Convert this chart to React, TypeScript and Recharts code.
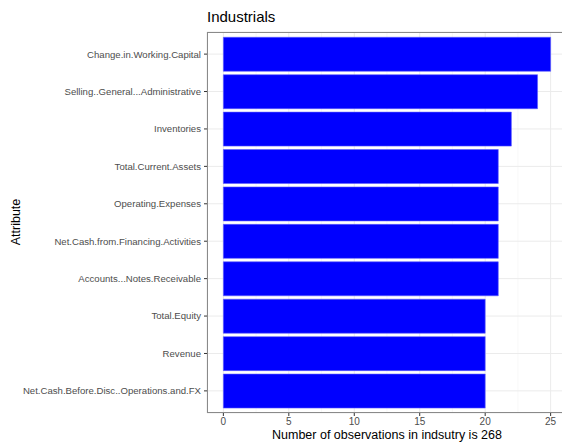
import React from 'react';
import {
  BarChart,
  Bar,
  XAxis,
  YAxis,
  CartesianGrid,
} from 'recharts';

const attributes = [
  'Change.in.Working.Capital',
  'Selling..General...Administrative',
  'Inventories',
  'Total.Current.Assets',
  'Operating.Expenses',
  'Net.Cash.from.Financing.Activities',
  'Accounts...Notes.Receivable',
  'Total.Equity',
  'Revenue',
  'Net.Cash.Before.Disc..Operations.and.FX',
];
const counts = [25, 24, 22, 21, 21, 21, 21, 20, 20, 20];
const xTicks = [0, 5, 10, 15, 20, 25];
const minorTicks = [2.5, 7.5, 12.5, 17.5, 22.5];
const xDomain = [-1.25, 26.25];

const data = attributes.map((name, i) => ({ name, count: counts[i] }));

const font = '"Liberation Sans", Arial, sans-serif';

// minor vertical gridlines, mapped through the x scale (or the plot offset as fallback)
const minorGrid = ({ xAxis, offset }: any) =>
  minorTicks.map((t) => {
    if (xAxis && typeof xAxis.scale === 'function') return xAxis.scale(t);
    if (xAxis && xAxis.scale && typeof xAxis.scale.map === 'function') return xAxis.scale.map(t);
    return offset.left + ((t - xDomain[0]) / (xDomain[1] - xDomain[0])) * offset.width;
  });

export default function App() {
  return (
    <div
      style={{
        position: 'absolute',
        left: 0,
        top: 0,
        width: 562,
        height: 446,
        overflow: 'hidden',
        background: '#fff',
        fontFamily: font,
      }}
    >
      <div style={{ position: 'absolute', left: 207, top: 8, fontSize: 15, color: '#000' }}>
        Industrials
      </div>
      <BarChart
        width={580}
        height={446}
        data={data}
        layout="vertical"
        margin={{ top: 32, right: 13, left: 0, bottom: 0 }}
        barCategoryGap="5%"
      >
        <CartesianGrid
          stroke="#F4F4F4"
          strokeWidth={0.6}
          horizontal={false}
          verticalCoordinatesGenerator={minorGrid}
        />
        <CartesianGrid stroke="#EBEBEB" strokeWidth={1} />
        <XAxis
          type="number"
          domain={xDomain}
          ticks={xTicks}
          allowDataOverflow
          height={33}
          tickSize={3}
          tickMargin={2}
          axisLine={false}
          tickLine={{ stroke: '#333' }}
          tick={{ fontSize: 10, fill: '#4D4D4D', fontFamily: font }}
        />
        <YAxis
          type="category"
          dataKey="name"
          width={207}
          padding={{ top: 3.4, bottom: 3.4 }}
          tickSize={3}
          tickMargin={3}
          axisLine={false}
          tickLine={{ stroke: '#333' }}
          interval={0}
          tick={{ fontSize: 9.6, fill: '#4D4D4D', fontFamily: font }}
        />
        <Bar dataKey="count" fill="#0000FF" stroke="#5c5cff" strokeWidth={0.6} isAnimationActive={false} />
      </BarChart>
      <div
        style={{
          position: 'absolute',
          left: 207,
          top: 32,
          width: 360,
          height: 381,
          boxSizing: 'border-box',
          border: '1px solid #8a8a8a',
          pointerEvents: 'none',
        }}
      />
      <div
        style={{
          position: 'absolute',
          left: 207,
          width: 360,
          top: 428,
          textAlign: 'center',
          fontSize: 12.5,
          color: '#000',
        }}
      >
        Number of observations in indsutry is 268
      </div>
      <div
        style={{
          position: 'absolute',
          left: 16,
          top: 222,
          transform: 'translate(-50%, -50%) rotate(-90deg)',
          fontSize: 12.5,
          color: '#000',
          whiteSpace: 'nowrap',
        }}
      >
        Attribute
      </div>
    </div>
  );
}
